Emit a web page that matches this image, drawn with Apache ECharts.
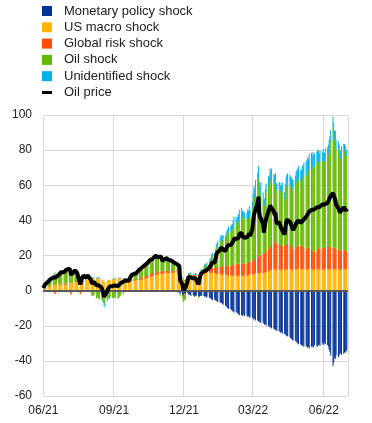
<!DOCTYPE html>
<html>
<head>
<meta charset="utf-8">
<script src="https://cdn.jsdelivr.net/npm/echarts@6/dist/echarts.min.js"></script>
<style>
html,body{margin:0;padding:0;background:#fff;}
#chart{width:372px;height:423px;}
</style>
</head>
<body>
<div id="chart"></div>
<script>
// ---- categories / axis ----
const firstDay = '2021-06-01';
const lastDay = '2022-07-02';
const tickLabels = ['06/21', '09/21', '12/21', '03/22', '06/22'];
const seriesNames = ['Monetary policy shock', 'US macro shock', 'Global risk shock', 'Oil shock', 'Unidentified shock', 'Oil price'];

// ---- values, one per business day (Tue 1 Jun 2021 ... Fri 1 Jul 2022), one line per week ----
const monetary = [
0,0,-0.3,0,
0,-0.3,0,0,-0.3,
0,0,0,-0.5,0,
0,0,-0.5,0,0,
0,0,0,0,-0.5,
0,0,-0.5,0,0,
0,0,0,-0.5,0,
0,0,0,0,-0.5,
0,0.5,0,0,0,
0,0,0.3,0,0,
0,0,0,0,0,
0,0,0,0,0,
0,0,0,0,0,
0,0,0,0,0,
0,-0.3,0,0,0,
0,0,0,0,0,
0,0,0,0,0,
0,0,0,0,0,
0,0,0,0,0,
0,0,0,0,0,
0,0,0,0,0,
0,0,0,0,0,
0,0,0,-0.5,0,
0,0,0,0,0,
0,0,-0.5,0,0,
-0.5,-0.5,-1,-1,-2,
-2.5,-3,-2,-1.5,-2,
-1.5,-2,-2.5,-2,-3,
-2.5,-3,-3.5,-3,-2.5,
-3,-3.5,-3,-2.5,-3,
-3,-3.5,-3,-4,-3.5,
-4,-4.5,-4,-5,-5.5,
-5,-5.5,-6,-6,-6.5,
-6.5,-7,-7,-7.5,-8,
-8.5,-9,-9.5,-10,-10.5,
-10.5,-11,-11.5,-12,-12.5,
-12.5,-12,-13,-13.5,-14,
-14,-14.5,-13.5,-14,-14.5,
-14,-15,-14.5,-15.5,-15,
-15.5,-16,-16.5,-16,-17,
-17,-17.5,-18,-17,-18.5,
-18,-19,-19.5,-19,-20,
-20,-20.5,-21,-20.5,-21.5,
-21.5,-22,-22.5,-22,-23,
-23,-23.5,-24,-23.5,-24.5,
-24.5,-25,-25.5,-26,-26,
-26.5,-27,-27.5,-28,-28.5,
-28.5,-29,-29.5,-30,-30.5,
-30.5,-31,-31.5,-31,-32,
-31.5,-32,-32.5,-32,-33,
-32,-31.5,-32.5,-32,-31,
-31.5,-32,-31,-30.5,-31.5,
-30,-31,-30.5,-29.5,-30.5,
-31,-32,-34,-35,-37,
-43,-41,-38,-39,-37,
-38,-37,-36,-35.5,-36.5,
-36,-35,-35.5,-34.5,-34
];
const usMacro = [
1,1.5,2,2,
2,2.5,2.5,3,3,
3,3,3.5,3,3,
3,3.5,3.5,3.5,3,
3,3.5,3,3.5,4,
4,4,4.5,4.5,4,
4.5,5,5,5,5,
5,5.5,6,6,6,
6,6,6.5,6.5,7,
6.5,6.5,7,7,7,
7,7,7,7,7,
6.5,6,5.5,5,5,
5.5,6,6,6,6.5,
6.5,6.5,6.5,7,7,
7,7,7,7,7,
6.5,6,6,5.5,5.5,
5,5,5.5,5.5,5.5,
5.5,5.5,6,6,6,
6,6,6,6.5,6.5,
6.5,7,7,7,7.5,
7.5,8,8,8.5,8.5,
9,9,9,9.5,9.5,
9.5,9.5,9.5,10,10,
10,10,10,10,10,
10,10,10,10.5,10.5,
10.5,10,10,10,8,
7,6.5,5.5,5.5,6,
7,8,8.5,8,8.5,
8.5,8.5,8.5,9,8.5,
7.5,8.5,9,9.5,9.5,
9.5,10,10,10,10,
10,10,10.5,10.5,10,
10,10,9.5,9.5,9.5,
9.5,9.5,9,9,9,
9,9,9,9,8.5,
8.5,8.5,8.5,8.5,8.5,
8.5,8.5,8.5,8.5,8.5,
8.5,8.5,8.5,8.5,8.5,
8.5,8.5,9,9,9,
9,9.5,9.5,9.5,10,
10,10,10,10,10,
10,10,10,10.5,10.5,
11,11,11.5,11.5,12,
12,12.5,12,11.5,12,
12,11.5,12,12.5,12,
11.5,12,12.5,12,12,
12.5,12,12,11.5,12,
12,12.5,12,12,12.5,
12,12,12.5,12.5,12,
12,12,12,12.5,12.5,
12.5,12,12,11.5,12,
12,12.5,12.5,12,12,
12,12,11.5,12,12.5,
12.5,12,12,12,12.5,
12.5,12,12,12.5,12,
12,12,11.5,12,12,
12,12.5,12,12,12
];
const globalRisk = [
0,0,0.5,0.5,
0.3,-0.5,-1,0.2,0.3,
0.5,-1.5,-2,-1,0.5,
-1,0.5,0.5,0.5,-0.5,
0.5,0.5,1,0.5,0.5,
0.5,-1.5,-2,-1,0.5,
0.5,0.5,0.5,0.5,-1,
-2,-1.5,0.5,0.5,0.5,
0.5,0.5,0.5,0.5,0.5,
0,0,0,0,0,
0,-0.5,0,0,0,
0,0,0,0,0,
0,0,0,0,0,
0,0,0,0,0,
0,0,0,0,0,
0,-0.5,-0.5,-0.5,0,
0.5,0.5,0.5,-0.5,0.5,
0.5,1,1,-0.5,1,
1,1,1,1,1,
1,1,1.5,1.5,1.5,
1.5,1.5,1.5,1.5,1.5,
1.5,1.5,1.5,1.5,1.5,
1.5,1.5,1.5,1.5,1.5,
1.5,1.5,1,1,1,
1,1,1,1,1,
1,1,1,1,0.5,
0,-0.5,-0.5,-0.5,0,
0,0.5,0.5,0.5,0.5,
0.5,0.5,0.5,0.5,0.5,
-0.5,0.5,0.5,1,1,
1,1,1.5,1.5,1.5,
2,2.5,2.5,3,3,
3,3.5,3.5,4,4,
4,4,4,4.5,4.5,
4.5,5,5,5,5.5,
5.5,6,6,6.5,6.5,
6.5,6.5,7,7,7,
7,7,7,7,7,
7,7.5,7.5,7.5,7.5,
8,8,8.5,8.5,9,
9,9.5,10,10,10.5,
11,11,11.5,12,12.5,
13,13.5,14,14,14.5,
15,15.5,15,15,14.5,
14.5,14,14,13.5,13.5,
14,14,14.5,14.5,14.5,
14,13.5,13,12.5,12,
12,12.5,13,13,13.5,
13.5,13.5,13,13,12.5,
12,12,12.5,12,12,
11,10.5,10.5,10,10,
11,11.5,12,12,12,
12,12.5,12.5,12.5,13,
13,13,13,12.5,12.5,
12,12,12.5,12,12,
11.5,11,11,11,11,
11,11,10.5,10.5,10
];
const oilShock = [
0.3,0.8,1,1.7,
2.4,3.8,3.5,3,3.5,
3.5,6,6.5,5.5,4,
6.5,5.5,5.5,6,7,
6.5,5.5,7,7.5,7.5,
7.5,8,6.5,4.5,5,
6,6,5,4.5,6,
0,0,0,1,2,
0.5,0,0.5,1,1,
-1,-3,-2.5,-3,-2.5,
-4.5,-3.5,-4,-4.5,-5,
-5,-5.5,-6,-7,-7.5,
-5,-4.5,-4,-4,-3.5,
-4,-4.5,-4,-4,-4,
-4.5,-4,-3.5,-3,-2.5,
-2,-0.5,0,0.5,0.5,
0,0.5,1,3,2.5,
3,3,3,4,3,
4.5,5.5,4.5,5,6,
6.5,5.5,6,6.5,7,
8,8,8.5,7.5,8,
9,9.5,8.5,7.5,8,
8,7,5.5,4.5,6,
6.5,7.5,6.5,6,6,
5.5,5.5,4.5,4,3,
3.5,3.5,4,3.5,-1,
-1.5,-3,-3.5,-3,-3,
0,1,0.5,0,1,
0,0,0,0,-0.5,
-1,0,1,1,1.5,
2.5,3,2.5,3,3.5,
4,4.5,4,5.5,6.5,
6.5,8,11.5,11.5,12.5,
14,15.5,16,15.5,15.5,
15.5,16.5,18,18.5,19.5,
19.5,20,20.5,22,23.5,
23.5,22,23,24,26,
27,26,25.5,25.5,25,
25,26.5,25,27.5,25.5,
29,32,35.5,35,38.5,
42,44.5,37,34,36,
31,27,27,31.5,33,
36,36,38.5,37.5,38,
34.5,33,35,31,30.5,
31.5,31.5,30,30,31.5,
26.5,30,32.5,34.5,34.5,
34,34,34,34,33.5,
35.5,36.5,36.5,37.5,38,
36.5,36,38,39,41,
42,41.5,43.5,44,45.5,
48,47.5,49.5,49,49,
50,50.5,49,48,50,
49.5,50.5,49.5,49,50.5,
51,53,56,58.5,61,
68.5,66,61,61,57,
57,55.5,53,52,54.5,
57,56.5,56.5,54,55
];
const unidentified = [
0.2,0.2,0.3,0.3,
0.3,0.5,0.5,0.3,0.5,
0.5,0.5,0.5,0.5,0.5,
0.5,0.5,0.5,0.5,0.5,
0.5,0.5,0.5,0.5,0.5,
0.5,0.5,0.5,0.5,0.5,
0.5,0.5,0.5,0.5,0.5,
0.5,0.5,0.5,0.5,0.5,
0.5,0.5,0.5,0.5,0.5,
0.5,0.5,0.5,0.5,0.5,
0.5,0.5,0.5,0.5,0.5,
0,-0.5,-1,-1.5,-2,
-1,-0.5,-0.5,-0.5,-0.5,
0.3,0.3,0.3,0.3,0.3,
0.3,0.3,0.3,0.3,0.3,
0.5,0.5,0.5,0.5,0.5,
0.5,0.5,0.5,0.5,0.5,
0.5,0.5,0.5,0.5,0.5,
0.5,0.5,0.5,0.5,0.5,
0.5,0.5,0.5,0.5,0.5,
0.5,0.5,0.5,0.5,0.5,
0.5,0.5,0.5,0.5,0.5,
0.5,0.5,0.5,0.5,0.5,
0.5,0.5,0.5,0.5,0.5,
0.5,0.5,0.5,0.5,0.5,
0.5,0.5,0.5,0.5,0.5,
0.5,0.5,0.5,0.5,0.5,
0.5,0.5,0.5,0.5,0.5,
0.5,0.5,0.5,0.5,0.5,
0.5,0.5,0.5,0.5,0.5,
1,1,1,1,1,
1,1.5,1.5,1.5,2,
1.5,2,2,2,2.5,
2,2.5,2,2.5,2.5,
2,2.5,2.5,2.5,3,
3,3,3,3,3.5,
3.5,3.5,3.5,4,4.5,
4.5,4,4,4,4,
4,4,4,4,4,
4.5,5.5,6,5,5.5,
6,7,5,5,5,
4,4,4,4,5,
5,5,5.5,5,5,
5,4.5,5,4,4,
4,4.5,4,4,4.5,
4,5,5.5,5.5,5.5,
5.5,5.5,5.5,5.5,5.5,
6,6.5,7,7,7,
7,7,7.5,7,7.5,
7.5,9,8,6.5,8,
7,7,7,7,7,
6,6,6,6,6,
5.5,5.5,5,5,5,
5,5,5,5,5.5,
6,5.5,5.5,5.5,5,
4.5,4.5,4.5,4.5,4.5,
3.5,3.5,3.5,3.5,3.5
];
const oilPrice = [
1.5,2.5,3.5,4.5,
5,6,5.5,6.5,7,
7.5,8,8.5,7.5,8,
9,10,9.5,10.5,10,
10.5,10,11.5,12,12,
12.5,11,9,8.5,10,
11.5,12,11,10,10.5,
3.5,4.5,7,8,8.5,
7.5,7,8,8.5,9,
6,4,5,4.5,5,
3,4,3.5,3,2.5,
1.5,0,-1.5,-3.5,-4.5,
-0.5,1,1.5,1.5,2.5,
2.5,2,2.5,3,3,
2.5,3,3.5,4,4.5,
5,5.5,6,6,6.5,
5.5,6.5,7.5,8.5,9,
9.5,10,10.5,10,10.5,
12,13,12,13,14,
14.5,14,15,15.5,16.5,
17.5,18,18.5,18,18.5,
20,20.5,19.5,19,19.5,
19.5,18.5,17,16.5,18,
18.5,19.5,18,17.5,17.5,
17,17,16,16,15,
15,14.5,14.5,14,6,
3.5,0.5,0,1,1.5,
6,8,7.5,7,7.5,
7,6.5,6,7,6.5,
3.5,6,8,9.5,9.5,
11,11.5,12,11.5,12.5,
13,14,14.5,15.5,16,
16,18,20.5,21,22,
23,24.5,24,24,23.5,
22.5,24,25,25,26,
26,26.5,26.5,28,29.5,
29.5,28.5,29,30,32,
33,31,31.5,31,30,
30.5,31.5,31,32.5,31,
35,39,43,42,46,
50,53.5,44,42,43,
38,33,33,39,41,
45,45,48.5,47.5,48,
45,43,44.5,40,38,
39,38.5,36,36,37,
32,36,39,40.5,40.5,
39,38,37,36,34.5,
37,38.5,39,39.5,40,
38.5,37.5,39,40,41,
42,41,43.5,44.5,45,
46,45.5,46.5,46,47,
47.5,48,48,47.5,48.5,
49,49.5,48.5,49,50,
50,51,52,53,54,
55.5,54.5,53,51.5,49,
47,46,44.5,44,45.5,
47.5,48,47,45.5,46.5
];

// ---- build calendar categories (weekends left empty) ----
function pad(n) { return (n < 10 ? '0' : '') + n; }
function parseDay(s) { const p = s.split('-').map(Number); return Date.UTC(p[0], p[1] - 1, p[2]); }
const days = [];
for (let t = parseDay(firstDay); t <= parseDay(lastDay); t += 86400000) days.push(new Date(t));
const categories = days.map(d => d.getUTCFullYear() + '-' + pad(d.getUTCMonth() + 1) + '-' + pad(d.getUTCDate()));
function expand(vals) {
  let k = 0;
  return days.map(d => {
    const wd = d.getUTCDay();
    if (wd === 0 || wd === 6) return null;
    return k < vals.length ? vals[k++] : null;
  });
}
function labelOf(v) { return v.slice(5, 7) + '/' + v.slice(2, 4); }
function isTick(v) { return v.slice(8) === '01' && tickLabels.indexOf(labelOf(v)) >= 0; }

const fontFamily = "'Liberation Sans', Arial, sans-serif";
const colors = ['#003299', '#FFB400', '#FF4B00', '#65B800', '#00B1EA', '#000000'];
const barValues = [monetary, usMacro, globalRisk, oilShock, unidentified];

const series = barValues.map((vals, i) => ({
  name: seriesNames[i],
  type: 'bar',
  stack: 'shocks',
  barWidth: 1,
  itemStyle: { color: colors[i] },
  emphasis: { disabled: true },
  data: expand(vals)
}));
series[4].markLine = {
  silent: true, symbol: 'none', label: { show: false },
  lineStyle: { color: '#595959', width: 2, type: 'solid' },
  data: [{ yAxis: 0 }]
};
series.push({
  name: seriesNames[5],
  type: 'line',
  z: 5,
  data: expand(oilPrice),
  connectNulls: true,
  showSymbol: false,
  symbol: 'none',
  lineStyle: { color: '#000', width: 4 },
  itemStyle: { color: '#000' },
  emphasis: { disabled: true }
});

const chart = echarts.init(document.getElementById('chart'), null, { renderer: 'canvas' });
chart.setOption({
  animation: false,
  color: colors,
  textStyle: { fontFamily: fontFamily },
  legend: {
    orient: 'vertical',
    left: 42,
    top: 3,
    padding: 0,
    itemWidth: 10,
    itemHeight: 10,
    itemGap: 0.3,
    symbolKeepAspect: true,
    selectedMode: false,
    textStyle: { fontSize: 13, color: '#222', fontFamily: fontFamily, lineHeight: 16, padding: [0, 0, 0, 7] },
    data: [
      { name: seriesNames[0], icon: 'rect' },
      { name: seriesNames[1], icon: 'rect' },
      { name: seriesNames[2], icon: 'rect' },
      { name: seriesNames[3], icon: 'rect' },
      { name: seriesNames[4], icon: 'rect' },
      { name: seriesNames[5], icon: 'path://M0,0H10V3H0Z' }
    ]
  },
  grid: { left: 43, right: 24, top: 115, bottom: 27, containLabel: false },
  xAxis: {
    type: 'category',
    data: categories,
    boundaryGap: true,
    axisLine: { show: false, onZero: false },
    axisTick: { show: false },
    splitLine: { show: true, interval: (i, v) => isTick(v), lineStyle: { color: '#d9d9d9', width: 1 } },
    axisLabel: {
      interval: (i, v) => isTick(v),
      formatter: v => labelOf(v),
      fontSize: 12, color: '#222', fontFamily: fontFamily, margin: 9
    }
  },
  yAxis: {
    type: 'value',
    min: -60, max: 100, interval: 20,
    axisLine: { show: false },
    axisTick: { show: false },
    splitLine: { lineStyle: { color: '#d9d9d9', width: 1 } },
    axisLabel: { fontSize: 12, color: '#222', fontFamily: fontFamily, margin: 11 }
  },
  series: series
});
</script>
</body>
</html>
